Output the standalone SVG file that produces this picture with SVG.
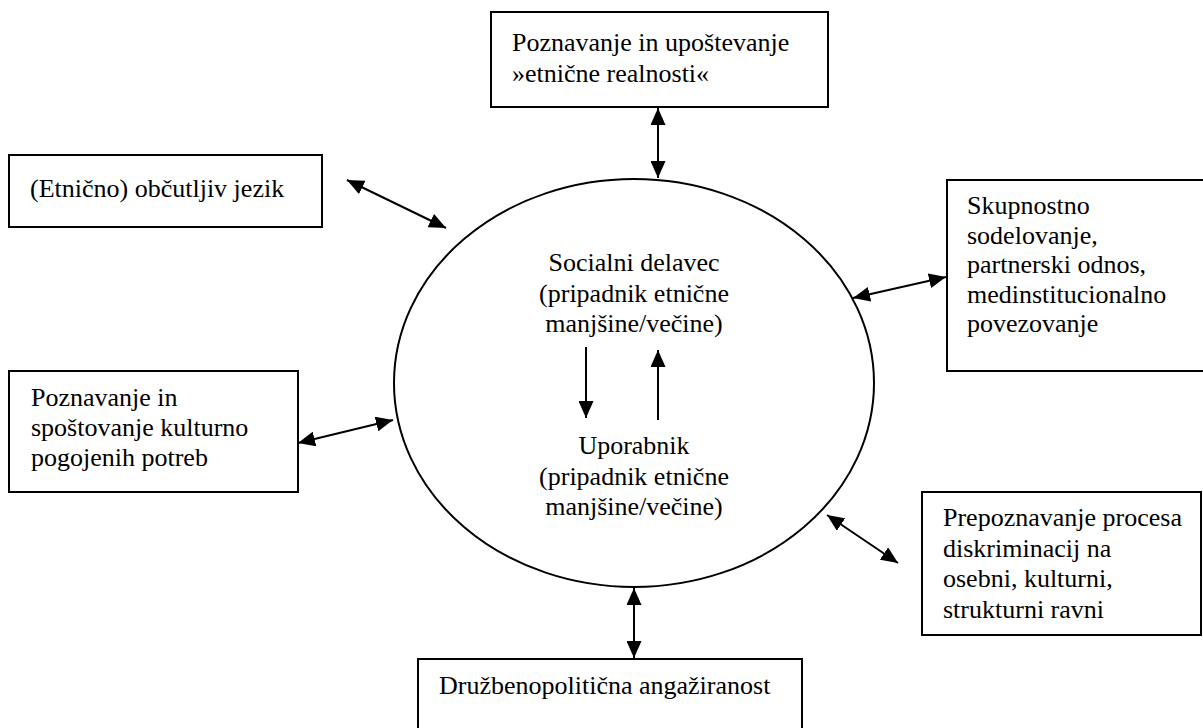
<svg xmlns="http://www.w3.org/2000/svg" width="1203" height="728" viewBox="0 0 1203 728">
  <style>
    .box { fill: #fff; stroke: #000; stroke-width: 2; }
    .lbl { font-family: "Liberation Serif", "Times New Roman", serif; font-size: 26px; fill: #000; }
    .mid { text-anchor: middle; }
    .link { fill: none; stroke: #000; stroke-width: 2; }
  </style>
  <defs>
    <marker id="head" viewBox="0 0 17 15" refX="17" refY="7.5" markerWidth="17" markerHeight="15" markerUnits="userSpaceOnUse" orient="auto-start-reverse">
      <path d="M0,0 L17,7.5 L0,15 Z" fill="#000"/>
    </marker>
  </defs>

  <rect width="1203" height="728" fill="#fff"/>

  <!-- central circle with the two actors -->
  <g id="centre">
    <ellipse cx="634" cy="383" rx="240" ry="204" fill="none" stroke="#000" stroke-width="2"/>
    <text class="lbl mid" x="634" y="271">Socialni delavec</text>
    <text class="lbl mid" x="634" y="302">(pripadnik etnične</text>
    <text class="lbl mid" x="634" y="332">manjšine/večine)</text>
    <text class="lbl mid" x="634" y="454">Uporabnik</text>
    <text class="lbl mid" x="634" y="485">(pripadnik etnične</text>
    <text class="lbl mid" x="634" y="515">manjšine/večine)</text>
  </g>

  <g id="reality">
    <rect class="box" x="491" y="12" width="337" height="95"/>
    <text class="lbl" x="512" y="51">Poznavanje in upoštevanje</text>
    <text class="lbl" x="512" y="82">»etnične realnosti«</text>
  </g>

  <g id="language">
    <rect class="box" x="9" y="155" width="313" height="72"/>
    <text class="lbl" x="30" y="197">(Etnično) občutljiv jezik</text>
  </g>

  <g id="cooperation">
    <rect class="box" x="947" y="180" width="262" height="191"/>
    <text class="lbl" x="967" y="214">Skupnostno</text>
    <text class="lbl" x="967" y="244">sodelovanje,</text>
    <text class="lbl" x="967" y="273">partnerski odnos,</text>
    <text class="lbl" x="967" y="303">medinstitucionalno</text>
    <text class="lbl" x="967" y="332">povezovanje</text>
  </g>

  <g id="needs">
    <rect class="box" x="9" y="371" width="289" height="121"/>
    <text class="lbl" x="31" y="406">Poznavanje in</text>
    <text class="lbl" x="31" y="436">spoštovanje kulturno</text>
    <text class="lbl" x="31" y="466">pogojenih potreb</text>
  </g>

  <g id="discrimination">
    <rect class="box" x="922" y="492" width="279" height="143"/>
    <text class="lbl" x="943" y="526">Prepoznavanje procesa</text>
    <text class="lbl" x="943" y="557">diskriminacij na</text>
    <text class="lbl" x="943" y="587">osebni, kulturni,</text>
    <text class="lbl" x="943" y="618">strukturni ravni</text>
  </g>

  <g id="engagement">
    <rect class="box" x="418" y="659" width="384" height="90"/>
    <text class="lbl" x="439" y="694">Družbenopolitična angažiranost</text>
  </g>

  <!-- connectors -->
  <g id="connectors">
    <line class="link" x1="658" y1="108" x2="658" y2="178" marker-start="url(#head)" marker-end="url(#head)"/>
    <line class="link" x1="347" y1="180" x2="446" y2="228" marker-start="url(#head)" marker-end="url(#head)"/>
    <line class="link" x1="853" y1="298" x2="946" y2="277" marker-start="url(#head)" marker-end="url(#head)"/>
    <line class="link" x1="298" y1="443" x2="393" y2="420" marker-start="url(#head)" marker-end="url(#head)"/>
    <line class="link" x1="827" y1="515" x2="898" y2="563" marker-start="url(#head)" marker-end="url(#head)"/>
    <line class="link" x1="634" y1="588" x2="634" y2="658" marker-start="url(#head)" marker-end="url(#head)"/>
    <line class="link" x1="586" y1="347" x2="586" y2="418" marker-end="url(#head)"/>
    <line class="link" x1="658" y1="420" x2="658" y2="350" marker-end="url(#head)"/>
  </g>
</svg>
